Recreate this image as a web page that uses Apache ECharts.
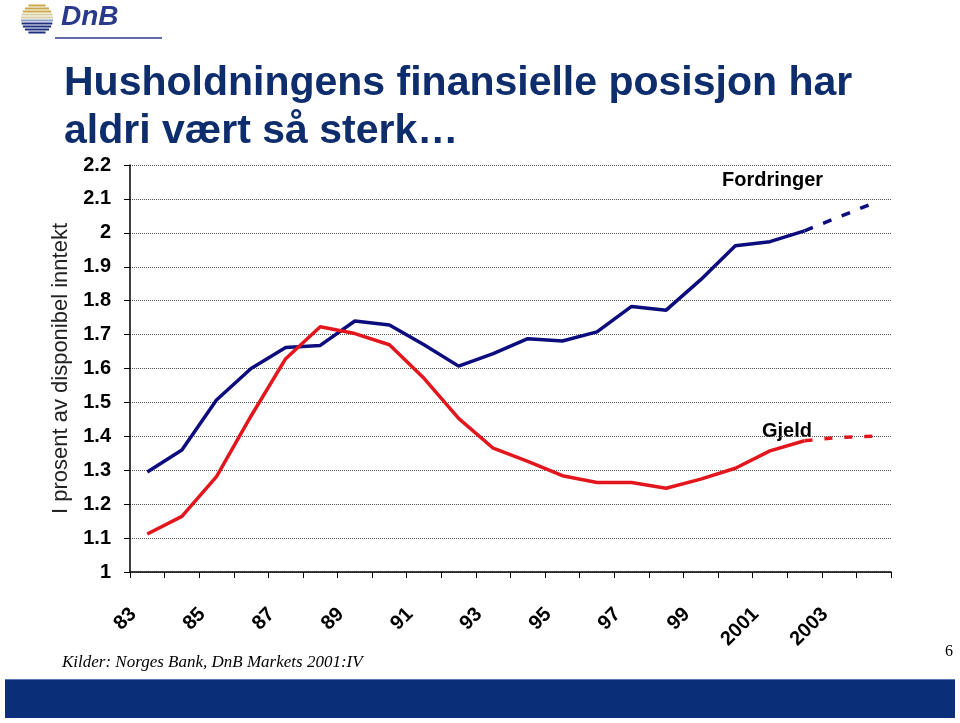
<!DOCTYPE html>
<html>
<head>
<meta charset="utf-8">
<script src="https://cdn.jsdelivr.net/npm/echarts@6/dist/echarts.min.js"></script>
<style>
html,body{margin:0;padding:0;background:#fff;}
#chart{width:960px;height:723px;}
</style>
</head>
<body>
<div id="chart"></div>
<script>
// ---- data ----
const years = ['83','84','85','86','87','88','89','90','91','92','93','94','95','96','97','98','99','2000','2001','2002','2003','2004'];
const fordringer = [1.295,1.36,1.507,1.60,1.662,1.668,1.74,1.728,1.67,1.607,1.644,1.688,1.681,1.708,1.783,1.772,1.862,1.962,1.974,2.006,null,null];
const fordringerProj = [null,null,null,null,null,null,null,null,null,null,null,null,null,null,null,null,null,null,null,2.006,2.047,2.088];
const gjeld = [1.112,1.164,1.281,1.46,1.629,1.723,1.703,1.67,1.571,1.453,1.365,1.326,1.284,1.264,1.264,1.247,1.274,1.306,1.357,1.387,null,null];
const gjeldProj = [null,null,null,null,null,null,null,null,null,null,null,null,null,null,null,null,null,null,null,1.387,1.397,1.40];
const yMin = 1, yMax = 2.2, yStep = 0.1;
const titleLines = ['Husholdningens finansielle posisjon har', 'aldri vært så sterk…'];
const yName = 'I prosent av disponibel inntekt';
const source = 'Kilder: Norges Bank, DnB Markets 2001:IV';

const NAVY = '#0c0c7e', RED = '#e3161e', TITLE = '#0e2d6d', BAR = '#0b2e78';

// logo stripes
const logo = [];
const cx = 37, cy = 19, r = 16;
for (let i = 0; i < 11; i++) {
  const y = cy - r + 1.5 + i * 3;
  const dy = y + 1 - cy;
  const half = Math.sqrt(Math.max(0, r * r - dy * dy));
  let col = i < 3 ? '#c9a84c' : (i < 5 ? '#d8cfa0' : (i < 6 ? '#8a9ac0' : '#1c2f7e'));
  logo.push({type:'rect', shape:{x:cx - half, y:y, width:2*half, height:2}, style:{fill:col}, silent:true});
}

const chart = echarts.init(document.getElementById('chart'));
chart.setOption({
  animation:false,
  backgroundColor:'#fff',
  grid:{left:130, right:69, top:165, bottom:151, containLabel:false},
  xAxis:{
    type:'category', data:years, boundaryGap:true,
    axisLine:{lineStyle:{color:'#000', width:1.5}},
    axisTick:{show:true, length:6, lineStyle:{color:'#000'}, interval:0},
    axisLabel:{interval:1, rotate:45, margin:25, padding:[0,20,0,0],
      fontFamily:'Liberation Sans, Arial', fontWeight:'bold', fontSize:20, color:'#000'}
  },
  yAxis:{
    type:'value', min:yMin, max:yMax, interval:yStep,
    name:yName, nameLocation:'middle', nameGap:57, nameRotate:90,
    nameTextStyle:{fontFamily:'Liberation Sans, Arial', fontSize:22, color:'#222'},
    axisLine:{show:true, lineStyle:{color:'#000', width:1.5}},
    axisTick:{show:true, length:6, lineStyle:{color:'#000'}},
    axisLabel:{margin:19, fontFamily:'Liberation Sans, Arial', fontWeight:'bold', fontSize:20, color:'#000',
      formatter:v => String(Math.round(v*10)/10)},
    splitLine:{show:true, lineStyle:{color:'#555', type:[1,1], width:1}}
  },
  series:[
    {type:'line', data:fordringer, symbol:'none', lineStyle:{color:NAVY, width:3.5}, z:3},
    {type:'line', data:fordringerProj, symbol:'none', lineStyle:{color:NAVY, width:3.5, type:[9,11]}, z:3},
    {type:'line', data:gjeld, symbol:'none', lineStyle:{color:RED, width:3.5}, z:4},
    {type:'line', data:gjeldProj, symbol:'none', lineStyle:{color:RED, width:3.5, type:[8,12]}, z:4}
  ],
  graphic:[
    ...logo,
    {type:'text', left:61, top:3, style:{text:'DnB', font:'italic bold 28px Liberation Sans, Arial', fill:'#2a3a8a'}},
    {type:'line', shape:{x1:55, y1:38, x2:162, y2:38}, style:{stroke:'#2a3a8a', lineWidth:1.5}},
    {type:'text', left:64, top:63, style:{text:titleLines[0], font:'bold 41px Liberation Sans, Arial', fill:TITLE}},
    {type:'text', left:64, top:111, style:{text:titleLines[1], font:'bold 41px Liberation Sans, Arial', fill:TITLE}},
    {type:'text', left:722, top:170, style:{text:'Fordringer', font:'bold 20px Liberation Sans, Arial', fill:'#000'}},
    {type:'text', left:762, top:421, style:{text:'Gjeld', font:'bold 20px Liberation Sans, Arial', fill:'#000'}},
    {type:'text', left:62, top:654, style:{text:source, font:'italic 17px Liberation Serif, Times New Roman', fill:'#000'}},
    {type:'text', left:945, top:644, style:{text:'6', font:'16px Liberation Serif, Times New Roman', fill:'#000'}},
    {type:'rect', shape:{x:5, y:679, width:950, height:39}, style:{fill:BAR}},
    {type:'line', shape:{x1:5, y1:679.5, x2:955, y2:679.5}, style:{stroke:'#5a78b0', lineWidth:1}}
  ]
});
</script>
</body>
</html>
